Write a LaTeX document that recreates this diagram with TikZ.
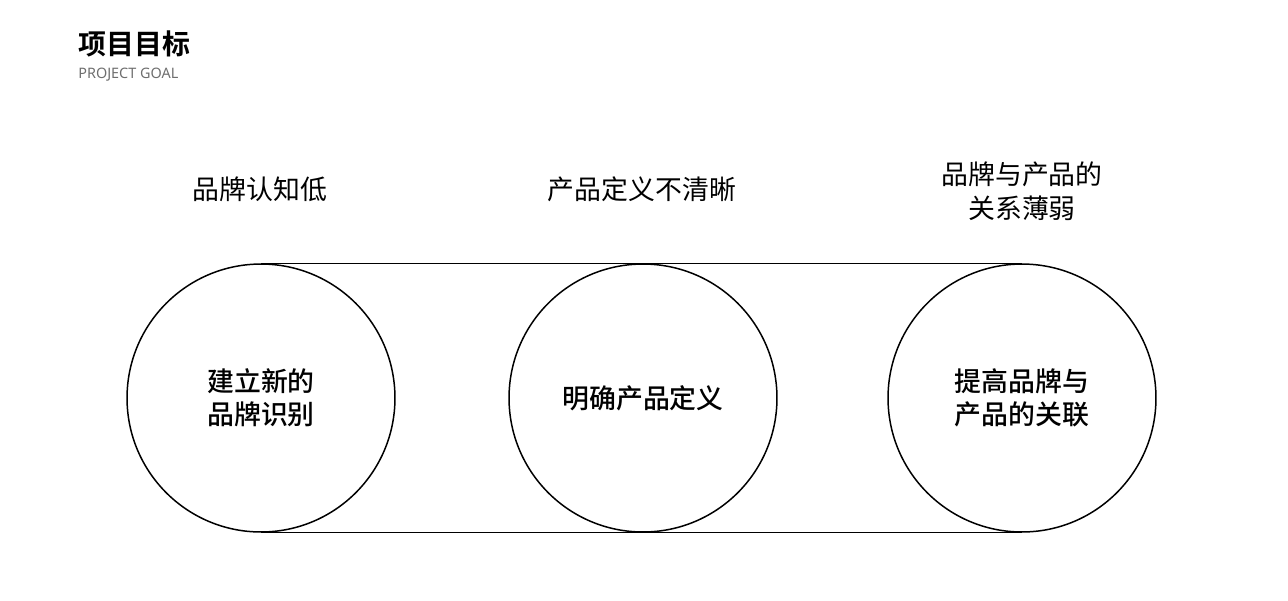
\documentclass[tikz,border=0pt]{standalone}
\usepackage{fontspec}
\usepackage{tikz}
\usepackage{xcolor}
\setmainfont{Noto Sans}
\newfontfamily\cjk{Noto Sans CJK SC}
\newfontfamily\cjkmed{Noto Sans CJK SC Medium}
\newfontfamily\cjkbold{Noto Sans CJK SC Bold}
\definecolor{goalgray}{RGB}{110,110,110}

\begin{document}
\begin{tikzpicture}[x=0.02cm, y=-0.02cm,
    goal/.style={circle, draw, line width=0.85pt, minimum size=5.36cm, inner sep=0pt,
        align=center, font=\cjkmed\fontsize{15.3}{18.6}\selectfont},
    problem/.style={align=center, font=\cjk\fontsize{15.3}{19.5}\selectfont}]

    \useasboundingbox (0,0) rectangle (1288,600);

    % Title
    \node[anchor=base west, inner sep=0pt, font=\cjkbold\fontsize{15.9}{18}\selectfont] (title) at (78,54) {项目目标};
    \node[anchor=base west, inner sep=0pt, text=goalgray, font=\fontsize{8.2}{10}\selectfont] (subtitle) at (78,78) {PROJECT GOAL};

    % Problems
    \node[problem] (p1) at (260,189) {品牌认知低};
    \node[problem] (p2) at (642,189) {产品定义不清晰};
    \node[problem] (p3) at (1022,191) {品牌与产品的\\关系薄弱};

    % Goals
    \node[goal] (g1) at (261,398) {建立新的\\品牌识别};
    \node[goal] (g2) at (643,398) {明确产品定义};
    \node[goal] (g3) at (1022,398) {提高品牌与\\产品的关联};

    % Band
    \draw[line width=0.85pt] (g1.north) -- (g3.north);
    \draw[line width=0.85pt] (g1.south) -- (g3.south);

\end{tikzpicture}
\end{document}
